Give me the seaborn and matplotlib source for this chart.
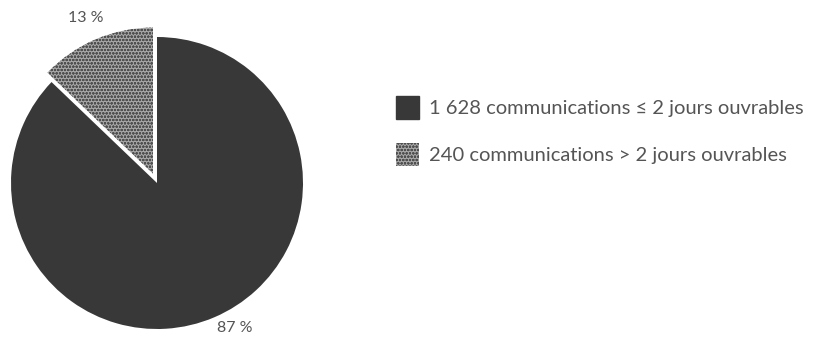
import matplotlib
matplotlib.use("Agg")
import matplotlib.pyplot as plt
from matplotlib.patches import Patch
import seaborn as sns

# Délais de traitement des communications
categories = ["240 communications > 2 jours ouvrables",
              "1 628 communications ≤ 2 jours ouvrables"]
counts = [240, 1628]
pct_labels = ["13 %", "87 %"]

sns.set_theme(style="white")
plt.rcParams["font.family"] = ["Lato", "DejaVu Sans"]
plt.rcParams["hatch.linewidth"] = 0.7
plt.rcParams["hatch.color"] = "#505050"

dark = "#383838"
grey = "#a8a8a8"
text_col = "#555555"

fig = plt.figure(figsize=(8.13, 3.39), dpi=100)
fig.patch.set_facecolor("white")

# Pie axes: centre ~ (157, 183) px, radius ~146 px
W, H = 813, 339
ax = fig.add_axes([0, 0, 320 / W, 1])
cx, cy, r = 157, 183, 146

wedges, texts = ax.pie(
    counts,
    labels=pct_labels,
    startangle=90,
    explode=[0.07, 0],
    colors=[grey, dark],
    radius=1,
    textprops=dict(color=text_col, fontsize=11.5),
    wedgeprops=dict(linewidth=0),
    frame=True,
)
ax.set_axis_off()
ax.set_xlim(-cx / r, (320 - cx) / r)
ax.set_ylim(-(H - cy) / r, cy / r)
ax.set_aspect("auto")

# Percentage labels just outside their slices
label_pos = [(-0.49, 1.13), (0.53, -0.99)]
for t, (x, y) in zip(texts, label_pos):
    t.set_position((x, y))
    t.set_ha("center")
    t.set_va("center")

# Stippled texture on the smaller slice
wedges[0].set_hatch("ooooo")
wedges[0].set_edgecolor("#505050")

handles = [Patch(facecolor=dark, edgecolor=dark, label=categories[1]),
           Patch(facecolor=grey, edgecolor="#505050", hatch="ooooo",
                 linewidth=0, label=categories[0])]
leg = fig.legend(
    handles=handles,
    loc="upper left",
    bbox_to_anchor=(396 / W, 1 - 96 / H),
    frameon=False,
    fontsize=14.5,
    handlelength=1.15,
    handleheight=1.38,
    handletextpad=0.5,
    labelspacing=1.2,
    borderpad=0,
    borderaxespad=0,
)
for t in leg.get_texts():
    t.set_color(text_col)

fig.savefig("out.png", dpi=100, facecolor="white")
